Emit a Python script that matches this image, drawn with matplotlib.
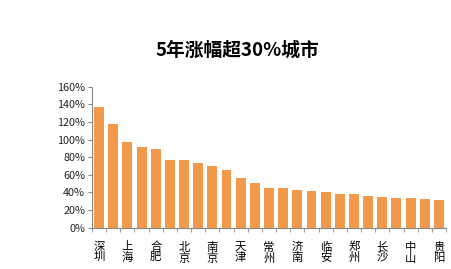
import matplotlib
matplotlib.use("Agg")
import matplotlib.pyplot as plt
from matplotlib.ticker import FixedLocator, FuncFormatter

plt.rcParams['font.family'] = ['Noto Sans CJK SC', 'DejaVu Sans']

title = "5年涨幅超30%城市"
labels = ["深圳", "", "上海", "", "合肥", "", "北京", "", "南京", "", "天津", "", "常州",
          "", "济南", "", "临安", "", "郑州", "", "长沙", "", "中山", "", "贵阳"]
values = [136.5, 118, 97.6, 91.5, 89.3, 77.2, 76.4, 73, 70, 65, 56.7, 50.3, 45.4, 45.4,
          42.4, 41.2, 40.1, 38.2, 38.2, 35.9, 35.2, 34, 33.3, 32.1, 31.4]
yticks = [0, 20, 40, 60, 80, 100, 120, 140, 160]

fig = plt.figure(figsize=(4.51, 2.69), dpi=100)
ax = fig.add_axes([92/451, 1-227.7/269, (446-92)/451, (227.7-86.7)/269])

x = list(range(len(values)))
ax.bar(x, values, width=0.7, color='#F3994B', edgecolor='none')
ax.set_xlim(-0.5, len(values)-0.5)
ax.set_ylim(0, 160)
ax.set_yticks(yticks)
ax.yaxis.set_major_formatter(FuncFormatter(lambda v, p: f"{int(v)}%"))
ax.tick_params(axis='y', labelsize=7.8, length=3, color='#888888', pad=2, labelcolor='#222222')
ax.set_xticks(x)
ax.set_xticklabels(["\n".join(l) for l in labels], fontsize=8.2, linespacing=1.0)
ax.tick_params(axis='x', which='major', length=0, pad=10)
ax.xaxis.set_minor_locator(FixedLocator([i - 0.5 for i in range(len(values)+1)]))
ax.tick_params(axis='x', which='minor', length=3, color='#888888')
for s in ['top', 'right']:
    ax.spines[s].set_visible(False)
for s in ['left', 'bottom']:
    ax.spines[s].set_color('#888888')
    ax.spines[s].set_linewidth(0.8)

fig.text(237/451, 1-50/269, title, ha='center', va='center', fontsize=13.5, fontweight='heavy')

fig.savefig("out.png", dpi=100)
